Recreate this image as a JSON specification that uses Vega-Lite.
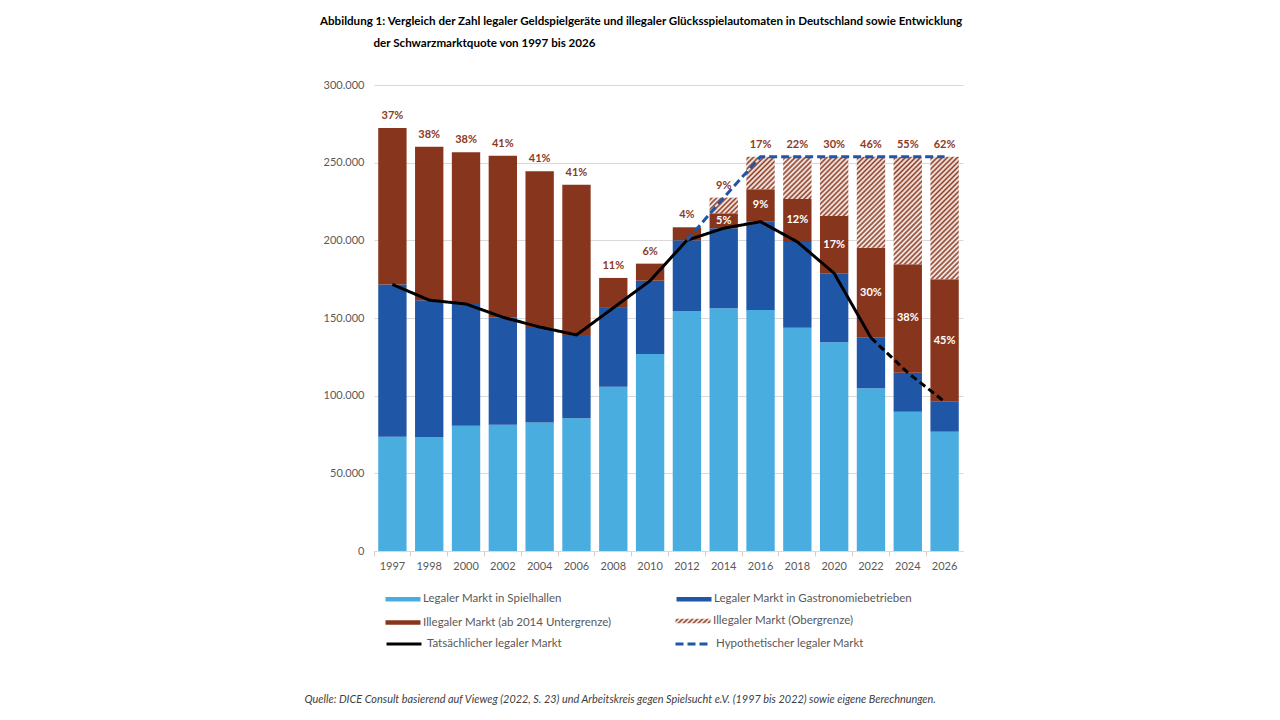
{
  "$schema": "https://vega.github.io/schema/vega-lite/v6.json",
  "width": 589,
  "height": 466,
  "autosize": {"type": "none"},
  "padding": {"left": 374, "top": 85, "right": 317, "bottom": 169},
  "background": "#ffffff",
  "title": {
    "text": ["Abbildung 1: Vergleich der Zahl legaler Geldspielgeräte und illegaler Glücksspielautomaten in Deutschland sowie Entwicklung", "\u200b\u00a0\u00a0\u00a0\u00a0\u00a0\u00a0\u00a0\u00a0\u00a0\u00a0\u00a0\u00a0\u00a0\u00a0\u00a0\u00a0\u00a0\u00a0\u00a0der Schwarzmarktquote von 1997 bis 2026"],
    "anchor": "start",
    "frame": "group",
    "dx": -54,
    "offset": 29,
    "font": "Lato",
    "fontSize": 11.6,
    "fontWeight": "bold",
    "color": "#000000",
    "lineHeight": 22
  },
  "datasets": {
    "bars": [
      {"year": "1997", "series": "Legaler Markt in Spielhallen", "k": 1, "value": 73600},
      {"year": "1997", "series": "Legaler Markt in Gastronomiebetrieben", "k": 2, "value": 98000},
      {"year": "1997", "series": "Illegaler Markt (ab 2014 Untergrenze)", "k": 3, "value": 100700, "top": "37%"},
      {"year": "1998", "series": "Legaler Markt in Spielhallen", "k": 1, "value": 73400},
      {"year": "1998", "series": "Legaler Markt in Gastronomiebetrieben", "k": 2, "value": 88100},
      {"year": "1998", "series": "Illegaler Markt (ab 2014 Untergrenze)", "k": 3, "value": 98800, "top": "38%"},
      {"year": "2000", "series": "Legaler Markt in Spielhallen", "k": 1, "value": 80700},
      {"year": "2000", "series": "Legaler Markt in Gastronomiebetrieben", "k": 2, "value": 78300},
      {"year": "2000", "series": "Illegaler Markt (ab 2014 Untergrenze)", "k": 3, "value": 97700, "top": "38%"},
      {"year": "2002", "series": "Legaler Markt in Spielhallen", "k": 1, "value": 81300},
      {"year": "2002", "series": "Legaler Markt in Gastronomiebetrieben", "k": 2, "value": 69200},
      {"year": "2002", "series": "Illegaler Markt (ab 2014 Untergrenze)", "k": 3, "value": 104000, "top": "41%"},
      {"year": "2004", "series": "Legaler Markt in Spielhallen", "k": 1, "value": 82800},
      {"year": "2004", "series": "Legaler Markt in Gastronomiebetrieben", "k": 2, "value": 61400},
      {"year": "2004", "series": "Illegaler Markt (ab 2014 Untergrenze)", "k": 3, "value": 100200, "top": "41%"},
      {"year": "2006", "series": "Legaler Markt in Spielhallen", "k": 1, "value": 85400},
      {"year": "2006", "series": "Legaler Markt in Gastronomiebetrieben", "k": 2, "value": 53700},
      {"year": "2006", "series": "Illegaler Markt (ab 2014 Untergrenze)", "k": 3, "value": 96700, "top": "41%"},
      {"year": "2008", "series": "Legaler Markt in Spielhallen", "k": 1, "value": 105800},
      {"year": "2008", "series": "Legaler Markt in Gastronomiebetrieben", "k": 2, "value": 50700},
      {"year": "2008", "series": "Illegaler Markt (ab 2014 Untergrenze)", "k": 3, "value": 19300, "top": "11%"},
      {"year": "2010", "series": "Legaler Markt in Spielhallen", "k": 1, "value": 126800},
      {"year": "2010", "series": "Legaler Markt in Gastronomiebetrieben", "k": 2, "value": 47200},
      {"year": "2010", "series": "Illegaler Markt (ab 2014 Untergrenze)", "k": 3, "value": 11000, "top": "6%"},
      {"year": "2012", "series": "Legaler Markt in Spielhallen", "k": 1, "value": 154500},
      {"year": "2012", "series": "Legaler Markt in Gastronomiebetrieben", "k": 2, "value": 45500},
      {"year": "2012", "series": "Illegaler Markt (ab 2014 Untergrenze)", "k": 3, "value": 8400, "top": "4%"},
      {"year": "2014", "series": "Legaler Markt in Spielhallen", "k": 1, "value": 156200},
      {"year": "2014", "series": "Legaler Markt in Gastronomiebetrieben", "k": 2, "value": 51600},
      {"year": "2014", "series": "Illegaler Markt (ab 2014 Untergrenze)", "k": 3, "value": 9600, "inside": "5%"},
      {"year": "2014", "series": "Illegaler Markt (Obergrenze)", "k": 4, "value": 10100, "top": "9%"},
      {"year": "2016", "series": "Legaler Markt in Spielhallen", "k": 1, "value": 155200},
      {"year": "2016", "series": "Legaler Markt in Gastronomiebetrieben", "k": 2, "value": 56800},
      {"year": "2016", "series": "Illegaler Markt (ab 2014 Untergrenze)", "k": 3, "value": 20900, "inside": "9%"},
      {"year": "2016", "series": "Illegaler Markt (Obergrenze)", "k": 4, "value": 20900, "top": "17%"},
      {"year": "2018", "series": "Legaler Markt in Spielhallen", "k": 1, "value": 143800},
      {"year": "2018", "series": "Legaler Markt in Gastronomiebetrieben", "k": 2, "value": 55200},
      {"year": "2018", "series": "Illegaler Markt (ab 2014 Untergrenze)", "k": 3, "value": 27600, "inside": "12%"},
      {"year": "2018", "series": "Illegaler Markt (Obergrenze)", "k": 4, "value": 27200, "top": "22%"},
      {"year": "2020", "series": "Legaler Markt in Spielhallen", "k": 1, "value": 134400},
      {"year": "2020", "series": "Legaler Markt in Gastronomiebetrieben", "k": 2, "value": 44400},
      {"year": "2020", "series": "Illegaler Markt (ab 2014 Untergrenze)", "k": 3, "value": 36900, "inside": "17%"},
      {"year": "2020", "series": "Illegaler Markt (Obergrenze)", "k": 4, "value": 38100, "top": "30%"},
      {"year": "2022", "series": "Legaler Markt in Spielhallen", "k": 1, "value": 104700},
      {"year": "2022", "series": "Legaler Markt in Gastronomiebetrieben", "k": 2, "value": 32600},
      {"year": "2022", "series": "Illegaler Markt (ab 2014 Untergrenze)", "k": 3, "value": 58000, "inside": "30%"},
      {"year": "2022", "series": "Illegaler Markt (Obergrenze)", "k": 4, "value": 58500, "top": "46%"},
      {"year": "2024", "series": "Legaler Markt in Spielhallen", "k": 1, "value": 89700},
      {"year": "2024", "series": "Legaler Markt in Gastronomiebetrieben", "k": 2, "value": 25100},
      {"year": "2024", "series": "Illegaler Markt (ab 2014 Untergrenze)", "k": 3, "value": 69800, "inside": "38%"},
      {"year": "2024", "series": "Illegaler Markt (Obergrenze)", "k": 4, "value": 69200, "top": "55%"},
      {"year": "2026", "series": "Legaler Markt in Spielhallen", "k": 1, "value": 76800},
      {"year": "2026", "series": "Legaler Markt in Gastronomiebetrieben", "k": 2, "value": 19300},
      {"year": "2026", "series": "Illegaler Markt (ab 2014 Untergrenze)", "k": 3, "value": 78800, "inside": "45%"},
      {"year": "2026", "series": "Illegaler Markt (Obergrenze)", "k": 4, "value": 78900, "top": "62%"}
    ],
    "legal": [
      {"year": "1997", "series": "Tatsächlicher legaler Markt", "value": 171600},
      {"year": "1998", "series": "Tatsächlicher legaler Markt", "value": 161500},
      {"year": "2000", "series": "Tatsächlicher legaler Markt", "value": 159000},
      {"year": "2002", "series": "Tatsächlicher legaler Markt", "value": 150500},
      {"year": "2004", "series": "Tatsächlicher legaler Markt", "value": 144200},
      {"year": "2006", "series": "Tatsächlicher legaler Markt", "value": 139100},
      {"year": "2008", "series": "Tatsächlicher legaler Markt", "value": 156500},
      {"year": "2010", "series": "Tatsächlicher legaler Markt", "value": 174000},
      {"year": "2012", "series": "Tatsächlicher legaler Markt", "value": 200000},
      {"year": "2014", "series": "Tatsächlicher legaler Markt", "value": 207800},
      {"year": "2016", "series": "Tatsächlicher legaler Markt", "value": 212000},
      {"year": "2018", "series": "Tatsächlicher legaler Markt", "value": 199000},
      {"year": "2020", "series": "Tatsächlicher legaler Markt", "value": 178800},
      {"year": "2022", "series": "Tatsächlicher legaler Markt", "value": 137300},
      {"year": "2024", "series": "Tatsächlicher legaler Markt", "value": 114800},
      {"year": "2026", "series": "Tatsächlicher legaler Markt", "value": 96100}
    ],
    "hypo": [
      {"year": "2012", "series": "Hypothetischer legaler Markt", "value": 200000},
      {"year": "2014", "series": "Hypothetischer legaler Markt", "value": 227500},
      {"year": "2016", "series": "Hypothetischer legaler Markt", "value": 253800},
      {"year": "2018", "series": "Hypothetischer legaler Markt", "value": 253800},
      {"year": "2020", "series": "Hypothetischer legaler Markt", "value": 253800},
      {"year": "2022", "series": "Hypothetischer legaler Markt", "value": 253800},
      {"year": "2024", "series": "Hypothetischer legaler Markt", "value": 253800},
      {"year": "2026", "series": "Hypothetischer legaler Markt", "value": 253800}
    ]
  },
  "encoding": {
    "x": {
      "field": "year",
      "type": "ordinal",
      "scale": {"paddingInner": 0.23, "paddingOuter": 0.115},
      "axis": {
        "title": "Quelle: DICE Consult basierend auf Vieweg (2022, S. 23) und Arbeitskreis gegen Spielsucht e.V. (1997 bis 2022) sowie eigene Berechnungen.",
        "titleFont": "Lato",
        "titleFontSize": 10.9,
        "titleFontStyle": "italic",
        "titleFontWeight": "normal",
        "titleColor": "#404040",
        "titleAnchor": "start",
        "titleAlign": "left",
        "titleBaseline": "middle",
        "titleX": -70,
        "titleY": 148,
        "labelAngle": 0,
        "labelFont": "Lato",
        "labelFontSize": 11,
        "labelColor": "#595959",
        "labelPadding": 4,
        "domainColor": "#D9D9D9",
        "tickColor": "#E3C9BF",
        "tickSize": 5,
        "bandPosition": -0.149,
        "grid": false
      }
    }
  },
  "layer": [
    {
      "data": {"name": "bars"},
      "transform": [{"filter": "datum.k < 4"}],
      "mark": {"type": "bar"},
      "encoding": {
        "y": {
          "field": "value",
          "type": "quantitative",
          "stack": "zero",
          "scale": {"domain": [0, 300000], "nice": false},
          "axis": {
            "title": null,
            "values": [0, 50000, 100000, 150000, 200000, 250000, 300000],
            "format": ",d",
            "domain": false,
            "ticks": false,
            "grid": true,
            "gridColor": "#D9D9D9",
            "labelFont": "Lato",
            "labelFontSize": 11,
            "labelColor": "#595959",
            "labelPadding": 10
          }
        },
        "order": {"field": "k", "type": "quantitative"},
        "fill": {
          "field": "series",
          "type": "nominal",
          "scale": {
            "domain": ["Legaler Markt in Spielhallen", "Legaler Markt in Gastronomiebetrieben", "Illegaler Markt (ab 2014 Untergrenze)"],
            "range": ["#4aade0", "#1f56a6", "#88351d"]
          },
          "legend": {
            "orient": "none",
            "legendX": 22,
            "legendY": 507,
            "title": null,
            "direction": "horizontal",
            "columns": 2,
            "columnPadding": 64,
            "rowPadding": 10.5,
            "symbolSize": 136,
            "symbolType": "M-3,-0.4H3V0.4H-3Z",
            "labelFont": "Lato",
            "labelFontSize": 11.5,
            "labelColor": "#595959",
            "labelOffset": 13,
            "labelLimit": 400
          }
        }
      }
    },
    {
      "data": {"name": "bars"},
      "transform": [
        {"stack": "value", "groupby": ["year"], "sort": [{"field": "k", "order": "ascending"}], "as": ["v0", "v1"]},
        {"filter": "datum.k == 4"}
      ],
      "mark": {"type": "bar"},
      "encoding": {
        "y": {"field": "v1", "type": "quantitative"},
        "y2": {"field": "v0"},
        "opacity": {
          "field": "series",
          "type": "ordinal",
          "scale": {"domain": ["Illegaler Markt (Obergrenze)"], "range": [1]},
          "legend": {
            "orient": "none",
            "legendX": 312,
            "legendY": 529,
            "title": null,
            "symbolSize": 136,
            "symbolType": "M-3,-0.4H3V0.4H-3Z",
            "labelFont": "Lato",
            "labelFontSize": 11.5,
            "labelColor": "#595959",
            "labelOffset": 13,
            "labelLimit": 400
          }
        },
        "fill": {
          "value": {"gradient": "linear", "x1": 0, "y1": 0, "x2": 1.114, "y2": 0.149, "stops": [{"offset":0,"color":"#fff"},{"offset":0.0625,"color":"#8e3a1f"},{"offset":0.125,"color":"#fff"},{"offset":0.1875,"color":"#8e3a1f"},{"offset":0.25,"color":"#fff"},{"offset":0.3125,"color":"#8e3a1f"},{"offset":0.375,"color":"#fff"},{"offset":0.4375,"color":"#8e3a1f"},{"offset":0.5,"color":"#fff"},{"offset":0.5625,"color":"#8e3a1f"},{"offset":0.625,"color":"#fff"},{"offset":0.6875,"color":"#8e3a1f"},{"offset":0.75,"color":"#fff"},{"offset":0.8125,"color":"#8e3a1f"},{"offset":0.875,"color":"#fff"},{"offset":0.9375,"color":"#8e3a1f"},{"offset":1,"color":"#fff"}]},
          "condition": [
            {"test": "datum.year === '2014'", "value": {"gradient": "linear", "x1": 0, "y1": 0, "x2": 1.189, "y2": 0.658, "stops": [{"offset":0,"color":"#fff"},{"offset":0.0556,"color":"#8e3a1f"},{"offset":0.1111,"color":"#fff"},{"offset":0.1667,"color":"#8e3a1f"},{"offset":0.2222,"color":"#fff"},{"offset":0.2778,"color":"#8e3a1f"},{"offset":0.3333,"color":"#fff"},{"offset":0.3889,"color":"#8e3a1f"},{"offset":0.4444,"color":"#fff"},{"offset":0.5,"color":"#8e3a1f"},{"offset":0.5556,"color":"#fff"},{"offset":0.6111,"color":"#8e3a1f"},{"offset":0.6667,"color":"#fff"},{"offset":0.7222,"color":"#8e3a1f"},{"offset":0.7778,"color":"#fff"},{"offset":0.8333,"color":"#8e3a1f"},{"offset":0.8889,"color":"#fff"},{"offset":0.9444,"color":"#8e3a1f"},{"offset":1,"color":"#fff"}]}},
            {"test": "datum.year === '2016'", "value": {"gradient": "linear", "x1": 0, "y1": 0, "x2": 0.928, "y2": 1.063, "stops": [{"offset":0,"color":"#fff"},{"offset":0.0417,"color":"#8e3a1f"},{"offset":0.0833,"color":"#fff"},{"offset":0.125,"color":"#8e3a1f"},{"offset":0.1667,"color":"#fff"},{"offset":0.2083,"color":"#8e3a1f"},{"offset":0.25,"color":"#fff"},{"offset":0.2917,"color":"#8e3a1f"},{"offset":0.3333,"color":"#fff"},{"offset":0.375,"color":"#8e3a1f"},{"offset":0.4167,"color":"#fff"},{"offset":0.4583,"color":"#8e3a1f"},{"offset":0.5,"color":"#fff"},{"offset":0.5417,"color":"#8e3a1f"},{"offset":0.5833,"color":"#fff"},{"offset":0.625,"color":"#8e3a1f"},{"offset":0.6667,"color":"#fff"},{"offset":0.7083,"color":"#8e3a1f"},{"offset":0.75,"color":"#fff"},{"offset":0.7917,"color":"#8e3a1f"},{"offset":0.8333,"color":"#fff"},{"offset":0.875,"color":"#8e3a1f"},{"offset":0.9167,"color":"#fff"},{"offset":0.9583,"color":"#8e3a1f"},{"offset":1,"color":"#fff"}]}},
            {"test": "datum.year === '2018'", "value": {"gradient": "linear", "x1": 0, "y1": 0, "x2": 0.773, "y2": 1.152, "stops": [{"offset":0,"color":"#fff"},{"offset":0.0357,"color":"#8e3a1f"},{"offset":0.0714,"color":"#fff"},{"offset":0.1071,"color":"#8e3a1f"},{"offset":0.1429,"color":"#fff"},{"offset":0.1786,"color":"#8e3a1f"},{"offset":0.2143,"color":"#fff"},{"offset":0.25,"color":"#8e3a1f"},{"offset":0.2857,"color":"#fff"},{"offset":0.3214,"color":"#8e3a1f"},{"offset":0.3571,"color":"#fff"},{"offset":0.3929,"color":"#8e3a1f"},{"offset":0.4286,"color":"#fff"},{"offset":0.4643,"color":"#8e3a1f"},{"offset":0.5,"color":"#fff"},{"offset":0.5357,"color":"#8e3a1f"},{"offset":0.5714,"color":"#fff"},{"offset":0.6071,"color":"#8e3a1f"},{"offset":0.6429,"color":"#fff"},{"offset":0.6786,"color":"#8e3a1f"},{"offset":0.7143,"color":"#fff"},{"offset":0.75,"color":"#8e3a1f"},{"offset":0.7857,"color":"#fff"},{"offset":0.8214,"color":"#8e3a1f"},{"offset":0.8571,"color":"#fff"},{"offset":0.8929,"color":"#8e3a1f"},{"offset":0.9286,"color":"#fff"},{"offset":0.9643,"color":"#8e3a1f"},{"offset":1,"color":"#fff"}]}},
            {"test": "datum.year === '2020'", "value": {"gradient": "linear", "x1": 0, "y1": 0, "x2": 0.576, "y2": 1.203, "stops": [{"offset":0,"color":"#fff"},{"offset":0.0286,"color":"#8e3a1f"},{"offset":0.0571,"color":"#fff"},{"offset":0.0857,"color":"#8e3a1f"},{"offset":0.1143,"color":"#fff"},{"offset":0.1429,"color":"#8e3a1f"},{"offset":0.1714,"color":"#fff"},{"offset":0.2,"color":"#8e3a1f"},{"offset":0.2286,"color":"#fff"},{"offset":0.2571,"color":"#8e3a1f"},{"offset":0.2857,"color":"#fff"},{"offset":0.3143,"color":"#8e3a1f"},{"offset":0.3429,"color":"#fff"},{"offset":0.3714,"color":"#8e3a1f"},{"offset":0.4,"color":"#fff"},{"offset":0.4286,"color":"#8e3a1f"},{"offset":0.4571,"color":"#fff"},{"offset":0.4857,"color":"#8e3a1f"},{"offset":0.5143,"color":"#fff"},{"offset":0.5429,"color":"#8e3a1f"},{"offset":0.5714,"color":"#fff"},{"offset":0.6,"color":"#8e3a1f"},{"offset":0.6286,"color":"#fff"},{"offset":0.6571,"color":"#8e3a1f"},{"offset":0.6857,"color":"#fff"},{"offset":0.7143,"color":"#8e3a1f"},{"offset":0.7429,"color":"#fff"},{"offset":0.7714,"color":"#8e3a1f"},{"offset":0.8,"color":"#fff"},{"offset":0.8286,"color":"#8e3a1f"},{"offset":0.8571,"color":"#fff"},{"offset":0.8857,"color":"#8e3a1f"},{"offset":0.9143,"color":"#fff"},{"offset":0.9429,"color":"#8e3a1f"},{"offset":0.9714,"color":"#fff"},{"offset":1,"color":"#8e3a1f"}]}},
            {"test": "datum.year === '2022'", "value": {"gradient": "linear", "x1": 0, "y1": 0, "x2": 0.373, "y2": 1.196, "stops": [{"offset":0,"color":"#fff"},{"offset":0.0208,"color":"#8e3a1f"},{"offset":0.0417,"color":"#fff"},{"offset":0.0625,"color":"#8e3a1f"},{"offset":0.0833,"color":"#fff"},{"offset":0.1042,"color":"#8e3a1f"},{"offset":0.125,"color":"#fff"},{"offset":0.1458,"color":"#8e3a1f"},{"offset":0.1667,"color":"#fff"},{"offset":0.1875,"color":"#8e3a1f"},{"offset":0.2083,"color":"#fff"},{"offset":0.2292,"color":"#8e3a1f"},{"offset":0.25,"color":"#fff"},{"offset":0.2708,"color":"#8e3a1f"},{"offset":0.2917,"color":"#fff"},{"offset":0.3125,"color":"#8e3a1f"},{"offset":0.3333,"color":"#fff"},{"offset":0.3542,"color":"#8e3a1f"},{"offset":0.375,"color":"#fff"},{"offset":0.3958,"color":"#8e3a1f"},{"offset":0.4167,"color":"#fff"},{"offset":0.4375,"color":"#8e3a1f"},{"offset":0.4583,"color":"#fff"},{"offset":0.4792,"color":"#8e3a1f"},{"offset":0.5,"color":"#fff"},{"offset":0.5208,"color":"#8e3a1f"},{"offset":0.5417,"color":"#fff"},{"offset":0.5625,"color":"#8e3a1f"},{"offset":0.5833,"color":"#fff"},{"offset":0.6042,"color":"#8e3a1f"},{"offset":0.625,"color":"#fff"},{"offset":0.6458,"color":"#8e3a1f"},{"offset":0.6667,"color":"#fff"},{"offset":0.6875,"color":"#8e3a1f"},{"offset":0.7083,"color":"#fff"},{"offset":0.7292,"color":"#8e3a1f"},{"offset":0.75,"color":"#fff"},{"offset":0.7708,"color":"#8e3a1f"},{"offset":0.7917,"color":"#fff"},{"offset":0.8125,"color":"#8e3a1f"},{"offset":0.8333,"color":"#fff"},{"offset":0.8542,"color":"#8e3a1f"},{"offset":0.875,"color":"#fff"},{"offset":0.8958,"color":"#8e3a1f"},{"offset":0.9167,"color":"#fff"},{"offset":0.9375,"color":"#8e3a1f"},{"offset":0.9583,"color":"#fff"},{"offset":0.9792,"color":"#8e3a1f"},{"offset":1,"color":"#fff"}]}},
            {"test": "datum.year === '2024'", "value": {"gradient": "linear", "x1": 0, "y1": 0, "x2": 0.312, "y2": 1.182, "stops": [{"offset":0,"color":"#fff"},{"offset":0.0185,"color":"#8e3a1f"},{"offset":0.037,"color":"#fff"},{"offset":0.0556,"color":"#8e3a1f"},{"offset":0.0741,"color":"#fff"},{"offset":0.0926,"color":"#8e3a1f"},{"offset":0.1111,"color":"#fff"},{"offset":0.1296,"color":"#8e3a1f"},{"offset":0.1481,"color":"#fff"},{"offset":0.1667,"color":"#8e3a1f"},{"offset":0.1852,"color":"#fff"},{"offset":0.2037,"color":"#8e3a1f"},{"offset":0.2222,"color":"#fff"},{"offset":0.2407,"color":"#8e3a1f"},{"offset":0.2593,"color":"#fff"},{"offset":0.2778,"color":"#8e3a1f"},{"offset":0.2963,"color":"#fff"},{"offset":0.3148,"color":"#8e3a1f"},{"offset":0.3333,"color":"#fff"},{"offset":0.3519,"color":"#8e3a1f"},{"offset":0.3704,"color":"#fff"},{"offset":0.3889,"color":"#8e3a1f"},{"offset":0.4074,"color":"#fff"},{"offset":0.4259,"color":"#8e3a1f"},{"offset":0.4444,"color":"#fff"},{"offset":0.463,"color":"#8e3a1f"},{"offset":0.4815,"color":"#fff"},{"offset":0.5,"color":"#8e3a1f"},{"offset":0.5185,"color":"#fff"},{"offset":0.537,"color":"#8e3a1f"},{"offset":0.5556,"color":"#fff"},{"offset":0.5741,"color":"#8e3a1f"},{"offset":0.5926,"color":"#fff"},{"offset":0.6111,"color":"#8e3a1f"},{"offset":0.6296,"color":"#fff"},{"offset":0.6481,"color":"#8e3a1f"},{"offset":0.6667,"color":"#fff"},{"offset":0.6852,"color":"#8e3a1f"},{"offset":0.7037,"color":"#fff"},{"offset":0.7222,"color":"#8e3a1f"},{"offset":0.7407,"color":"#fff"},{"offset":0.7593,"color":"#8e3a1f"},{"offset":0.7778,"color":"#fff"},{"offset":0.7963,"color":"#8e3a1f"},{"offset":0.8148,"color":"#fff"},{"offset":0.8333,"color":"#8e3a1f"},{"offset":0.8519,"color":"#fff"},{"offset":0.8704,"color":"#8e3a1f"},{"offset":0.8889,"color":"#fff"},{"offset":0.9074,"color":"#8e3a1f"},{"offset":0.9259,"color":"#fff"},{"offset":0.9444,"color":"#8e3a1f"},{"offset":0.963,"color":"#fff"},{"offset":0.9815,"color":"#8e3a1f"},{"offset":1,"color":"#fff"}]}},
            {"test": "datum.year === '2026'", "value": {"gradient": "linear", "x1": 0, "y1": 0, "x2": 0.27, "y2": 1.169, "stops": [{"offset":0,"color":"#fff"},{"offset":0.0167,"color":"#8e3a1f"},{"offset":0.0333,"color":"#fff"},{"offset":0.05,"color":"#8e3a1f"},{"offset":0.0667,"color":"#fff"},{"offset":0.0833,"color":"#8e3a1f"},{"offset":0.1,"color":"#fff"},{"offset":0.1167,"color":"#8e3a1f"},{"offset":0.1333,"color":"#fff"},{"offset":0.15,"color":"#8e3a1f"},{"offset":0.1667,"color":"#fff"},{"offset":0.1833,"color":"#8e3a1f"},{"offset":0.2,"color":"#fff"},{"offset":0.2167,"color":"#8e3a1f"},{"offset":0.2333,"color":"#fff"},{"offset":0.25,"color":"#8e3a1f"},{"offset":0.2667,"color":"#fff"},{"offset":0.2833,"color":"#8e3a1f"},{"offset":0.3,"color":"#fff"},{"offset":0.3167,"color":"#8e3a1f"},{"offset":0.3333,"color":"#fff"},{"offset":0.35,"color":"#8e3a1f"},{"offset":0.3667,"color":"#fff"},{"offset":0.3833,"color":"#8e3a1f"},{"offset":0.4,"color":"#fff"},{"offset":0.4167,"color":"#8e3a1f"},{"offset":0.4333,"color":"#fff"},{"offset":0.45,"color":"#8e3a1f"},{"offset":0.4667,"color":"#fff"},{"offset":0.4833,"color":"#8e3a1f"},{"offset":0.5,"color":"#fff"},{"offset":0.5167,"color":"#8e3a1f"},{"offset":0.5333,"color":"#fff"},{"offset":0.55,"color":"#8e3a1f"},{"offset":0.5667,"color":"#fff"},{"offset":0.5833,"color":"#8e3a1f"},{"offset":0.6,"color":"#fff"},{"offset":0.6167,"color":"#8e3a1f"},{"offset":0.6333,"color":"#fff"},{"offset":0.65,"color":"#8e3a1f"},{"offset":0.6667,"color":"#fff"},{"offset":0.6833,"color":"#8e3a1f"},{"offset":0.7,"color":"#fff"},{"offset":0.7167,"color":"#8e3a1f"},{"offset":0.7333,"color":"#fff"},{"offset":0.75,"color":"#8e3a1f"},{"offset":0.7667,"color":"#fff"},{"offset":0.7833,"color":"#8e3a1f"},{"offset":0.8,"color":"#fff"},{"offset":0.8167,"color":"#8e3a1f"},{"offset":0.8333,"color":"#fff"},{"offset":0.85,"color":"#8e3a1f"},{"offset":0.8667,"color":"#fff"},{"offset":0.8833,"color":"#8e3a1f"},{"offset":0.9,"color":"#fff"},{"offset":0.9167,"color":"#8e3a1f"},{"offset":0.9333,"color":"#fff"},{"offset":0.95,"color":"#8e3a1f"},{"offset":0.9667,"color":"#fff"},{"offset":0.9833,"color":"#8e3a1f"},{"offset":1,"color":"#fff"}]}}
          ]
        }
      }
    },
    {
      "data": {"name": "legal"},
      "transform": [{"filter": "datum.year <= '2022'"}],
      "mark": {"type": "line", "strokeWidth": 3},
      "encoding": {
        "y": {"field": "value", "type": "quantitative"},
        "stroke": {
          "field": "series",
          "type": "nominal",
          "scale": {"domain": ["Tatsächlicher legaler Markt", "Hypothetischer legaler Markt"], "range": ["#000000", "#1f56a6"]},
          "legend": {"orient": "none", "legendX": 11, "legendY": 540, "title": null, "direction": "horizontal", "columns": 2, "columnPadding": 106, "symbolSize": 1225, "symbolType": "stroke", "symbolStrokeWidth": 3, "labelFont": "Lato", "labelFontSize": 11.5, "labelColor": "#595959", "labelOffset": 4, "labelLimit": 400}
        },
        "strokeDash": {
          "field": "series",
          "type": "nominal",
          "scale": {"domain": ["Tatsächlicher legaler Markt", "Hypothetischer legaler Markt"], "range": [[1, 0], [8, 4]]},
          "legend": {"orient": "none", "legendX": 11, "legendY": 540, "title": null, "direction": "horizontal", "columns": 2, "columnPadding": 106, "symbolSize": 1225, "symbolType": "stroke", "symbolStrokeWidth": 3, "labelFont": "Lato", "labelFontSize": 11.5, "labelColor": "#595959", "labelOffset": 4, "labelLimit": 400}
        }
      }
    },
    {
      "data": {"name": "legal"},
      "transform": [{"filter": "datum.year >= '2022'"}],
      "mark": {"type": "line", "strokeWidth": 3, "strokeDash": [7, 4]},
      "encoding": {
        "y": {"field": "value", "type": "quantitative"},
        "stroke": {"field": "series", "type": "nominal"}
      }
    },
    {
      "data": {"name": "hypo"},
      "mark": {"type": "line", "strokeWidth": 3},
      "encoding": {
        "y": {"field": "value", "type": "quantitative"},
        "stroke": {"field": "series", "type": "nominal"},
        "strokeDash": {"field": "series", "type": "nominal"}
      }
    },
    {
      "data": {"name": "bars"},
      "transform": [
        {"stack": "value", "groupby": ["year"], "sort": [{"field": "k", "order": "ascending"}], "as": ["v0", "v1"]},
        {"filter": "datum.top != null"}
      ],
      "mark": {"type": "text", "font": "Lato", "fontSize": 11, "fontWeight": "bold", "color": "#8b3a1e", "baseline": "bottom", "dy": -7},
      "encoding": {
        "y": {"field": "v1", "type": "quantitative"},
        "text": {"field": "top", "type": "nominal"}
      }
    },
    {
      "data": {"name": "bars"},
      "transform": [
        {"stack": "value", "groupby": ["year"], "sort": [{"field": "k", "order": "ascending"}], "as": ["v0", "v1"]},
        {"filter": "datum.inside != null"},
        {"calculate": "(datum.v0 + datum.v1) / 2", "as": "mid"}
      ],
      "mark": {"type": "text", "font": "Lato", "fontSize": 11, "fontWeight": "bold", "color": "#ffffff", "baseline": "middle"},
      "encoding": {
        "y": {"field": "mid", "type": "quantitative"},
        "text": {"field": "inside", "type": "nominal"}
      }
    }
  ],
  "config": {
    "view": {"stroke": null},
    "font": "Lato",
    "locale": {"number": {"decimal": ",", "thousands": ".", "grouping": [3], "currency": ["", " €"]}}
  }
}
